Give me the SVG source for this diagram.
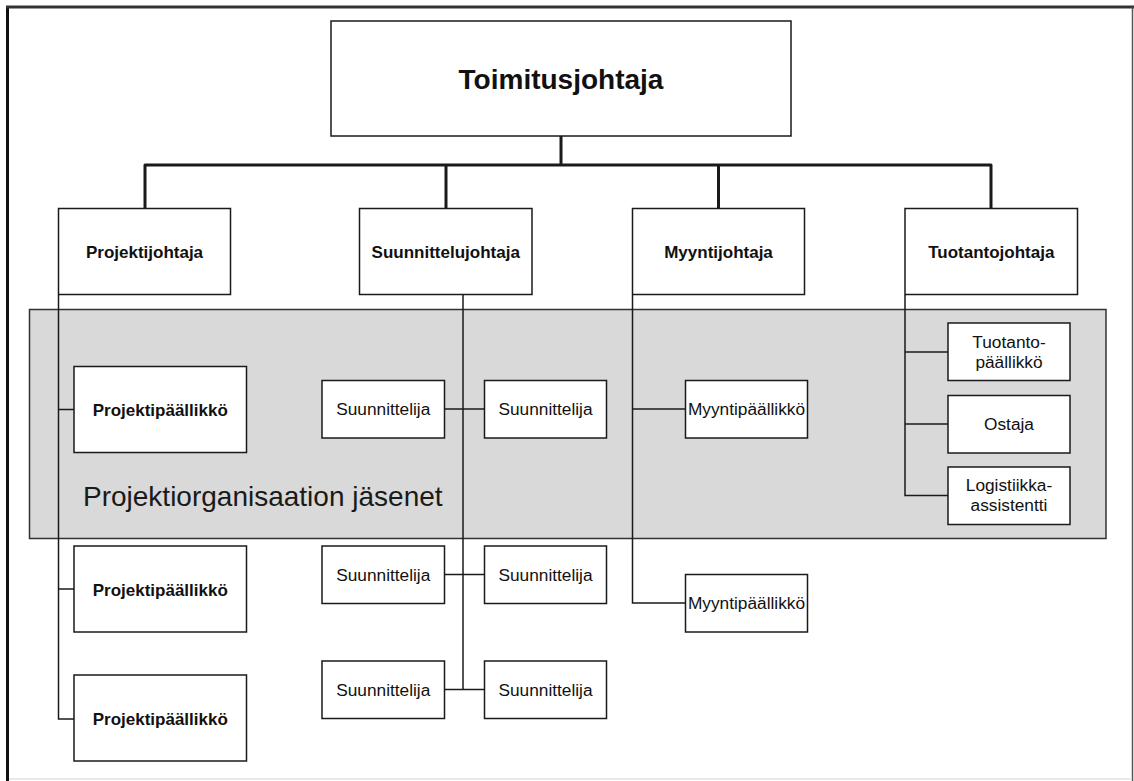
<svg xmlns="http://www.w3.org/2000/svg" width="1134" height="781" viewBox="0 0 1134 781">
  <style>
    .box { fill: #ffffff; stroke: #1a1a1a; stroke-width: 1.5; }
    .band { fill: #d9d9d9; stroke: #333333; stroke-width: 1.5; }
    .main { fill: none; stroke: #1a1a1a; stroke-width: 3; stroke-linejoin: round; }
    .thin { fill: none; stroke: #1a1a1a; stroke-width: 1.5; }
    text { font-family: "Liberation Sans", Arial, sans-serif; fill: #111111; text-anchor: middle; }
    .t-top { font-size: 28px; font-weight: bold; }
    .t-b { font-size: 17px; font-weight: bold; }
    .t-n { font-size: 17.3px; }
    .t-band { font-size: 28px; text-anchor: start; fill: #1a1a1a; }
  </style>

  <!-- page frame -->
  <rect x="0" y="0" width="1134" height="781" fill="#ffffff"/>
  <line x1="7.5" y1="6" x2="7.5" y2="781" stroke="#111" stroke-width="3"/>
  <line x1="6" y1="7" x2="1134" y2="7" stroke="#333" stroke-width="3"/>
  <line x1="1132.5" y1="7" x2="1132.5" y2="781" stroke="#555" stroke-width="1.5"/>
  <line x1="9" y1="779" x2="1132" y2="779" stroke="#e2e2e2" stroke-width="1.5"/>

  <!-- project organisation band -->
  <g id="band">
    <rect class="band" x="29.5" y="309.5" width="1076.5" height="229"/>
    <text class="t-band" x="83" y="506">Projektiorganisaation jäsenet</text>
  </g>

  <!-- connectors -->
  <g id="connectors">
    <path class="main" d="M561,136 V165"/>
    <path class="main" d="M145,208 V165 H991 V208"/>
    <path class="main" d="M446,165 V208"/>
    <path class="main" d="M718.5,165 V208"/>

    <!-- Projektijohtaja branch -->
    <path class="thin" d="M58.5,295 V719 H74"/>
    <path class="thin" d="M58.5,409.5 H74"/>
    <path class="thin" d="M58.5,589 H74"/>

    <!-- Suunnittelujohtaja branch -->
    <path class="thin" d="M463,295 V689.5"/>
    <path class="thin" d="M444.5,409 H484.5"/>
    <path class="thin" d="M444.5,574.5 H484.5"/>
    <path class="thin" d="M444.5,689.5 H484.5"/>

    <!-- Myyntijohtaja branch -->
    <path class="thin" d="M632.5,295 V603 H685.5"/>
    <path class="thin" d="M632.5,409 H685.5"/>

    <!-- Tuotantojohtaja branch -->
    <path class="thin" d="M905,295 V495.5 H948"/>
    <path class="thin" d="M905,352 H948"/>
    <path class="thin" d="M905,424 H948"/>
  </g>

  <!-- top level -->
  <g id="toimitusjohtaja">
    <rect class="box" x="331" y="21" width="460" height="115"/>
    <text class="t-top" x="561" y="89">Toimitusjohtaja</text>
  </g>

  <!-- directors -->
  <g id="projektijohtaja">
    <rect class="box" x="58.5" y="208.5" width="172" height="86"/>
    <text class="t-b" x="144.5" y="257.5">Projektijohtaja</text>
  </g>
  <g id="suunnittelujohtaja">
    <rect class="box" x="359.5" y="208.5" width="172.5" height="86"/>
    <text class="t-b" x="445.75" y="257.5">Suunnittelujohtaja</text>
  </g>
  <g id="myyntijohtaja">
    <rect class="box" x="632.5" y="208.5" width="172" height="86"/>
    <text class="t-b" x="718.5" y="257.5">Myyntijohtaja</text>
  </g>
  <g id="tuotantojohtaja">
    <rect class="box" x="905" y="208.5" width="172.5" height="86"/>
    <text class="t-b" x="991.25" y="257.5">Tuotantojohtaja</text>
  </g>

  <!-- project managers -->
  <g id="projektipaallikko-1">
    <rect class="box" x="74" y="366.5" width="172.5" height="86"/>
    <text class="t-b" x="160.25" y="416">Projektipäällikkö</text>
  </g>
  <g id="projektipaallikko-2">
    <rect class="box" x="74" y="546" width="172.5" height="86"/>
    <text class="t-b" x="160.25" y="595.5">Projektipäällikkö</text>
  </g>
  <g id="projektipaallikko-3">
    <rect class="box" x="74" y="675" width="172.5" height="86"/>
    <text class="t-b" x="160.25" y="724.5">Projektipäällikkö</text>
  </g>

  <!-- designers -->
  <g id="suunnittelija-1">
    <rect class="box" x="322" y="380.5" width="122.5" height="57.5"/>
    <text class="t-n" x="383.25" y="415">Suunnittelija</text>
  </g>
  <g id="suunnittelija-2">
    <rect class="box" x="484.5" y="380.5" width="122" height="57.5"/>
    <text class="t-n" x="545.5" y="415">Suunnittelija</text>
  </g>
  <g id="suunnittelija-3">
    <rect class="box" x="322" y="546" width="122.5" height="57.5"/>
    <text class="t-n" x="383.25" y="580.5">Suunnittelija</text>
  </g>
  <g id="suunnittelija-4">
    <rect class="box" x="484.5" y="546" width="122" height="57.5"/>
    <text class="t-n" x="545.5" y="580.5">Suunnittelija</text>
  </g>
  <g id="suunnittelija-5">
    <rect class="box" x="322" y="661" width="122.5" height="57.5"/>
    <text class="t-n" x="383.25" y="695.5">Suunnittelija</text>
  </g>
  <g id="suunnittelija-6">
    <rect class="box" x="484.5" y="661" width="122" height="57.5"/>
    <text class="t-n" x="545.5" y="695.5">Suunnittelija</text>
  </g>

  <!-- sales managers -->
  <g id="myyntipaallikko-1">
    <rect class="box" x="685.5" y="380.5" width="122" height="57.5"/>
    <text class="t-n" x="746.5" y="415">Myyntipäällikkö</text>
  </g>
  <g id="myyntipaallikko-2">
    <rect class="box" x="685.5" y="574.5" width="122" height="57.5"/>
    <text class="t-n" x="746.5" y="609">Myyntipäällikkö</text>
  </g>

  <!-- production staff -->
  <g id="tuotantopaallikko">
    <rect class="box" x="948" y="323" width="122" height="57.5"/>
    <text class="t-n" x="1009" y="347.5">Tuotanto-</text>
    <text class="t-n" x="1009" y="367.5">päällikkö</text>
  </g>
  <g id="ostaja">
    <rect class="box" x="948" y="395.5" width="122" height="57.5"/>
    <text class="t-n" x="1009" y="430">Ostaja</text>
  </g>
  <g id="logistiikka-assistentti">
    <rect class="box" x="948" y="467" width="122" height="57.5"/>
    <text class="t-n" x="1009" y="490.5">Logistiikka-</text>
    <text class="t-n" x="1009" y="511">assistentti</text>
  </g>
</svg>
